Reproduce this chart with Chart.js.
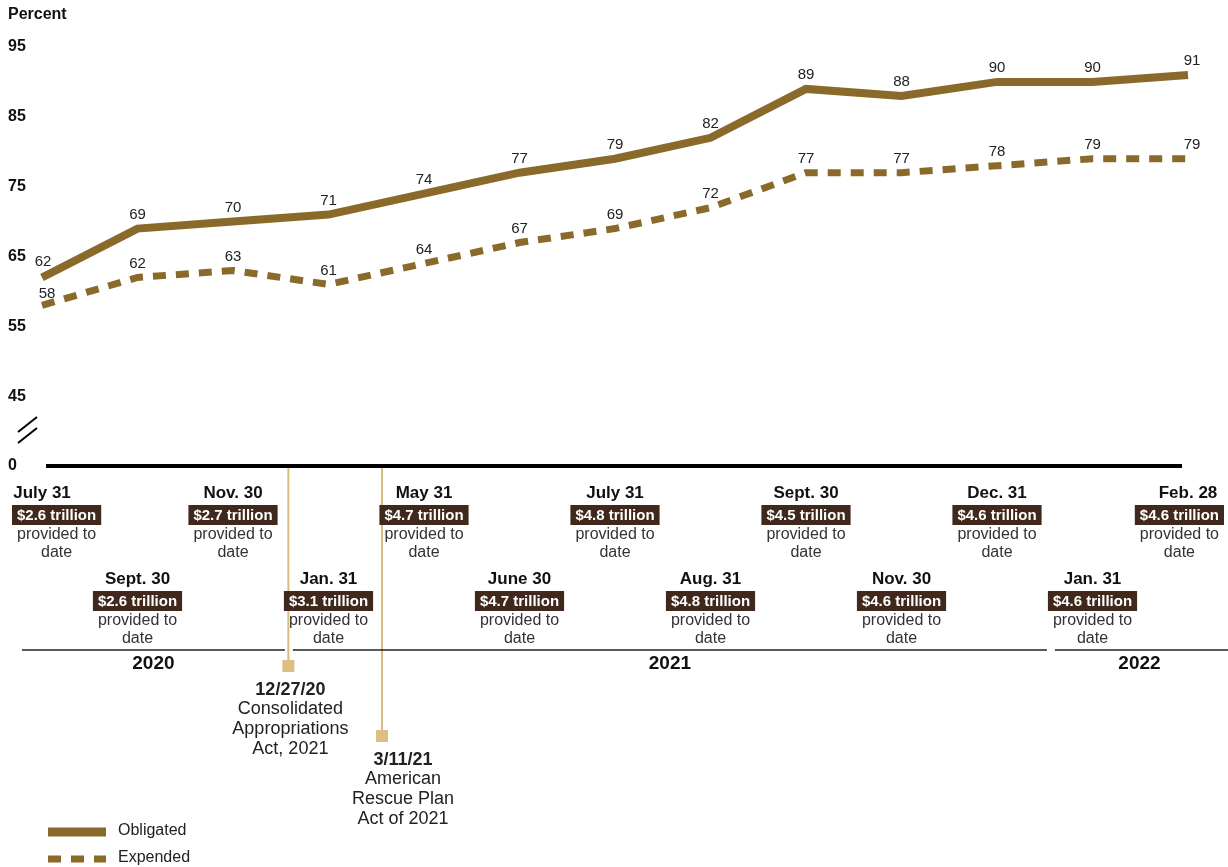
<!DOCTYPE html>
<html>
<head>
<meta charset="utf-8">
<script src="https://cdn.jsdelivr.net/npm/chart.js@4.4.1/dist/chart.umd.min.js"></script>
<style>
  html, body { margin: 0; padding: 0; background: #ffffff; }
  #wrap { width: 1228px; height: 867px; position: relative; }
</style>
</head>
<body>
<div id="wrap"><canvas id="c"></canvas></div>
<script>
// ---- data ----
const dates = ['July 31','Sept. 30','Nov. 30','Jan. 31','May 31','June 30','July 31','Aug. 31','Sept. 30','Nov. 30','Dec. 31','Jan. 31','Feb. 28'];
const provided = ['$2.6 trillion','$2.6 trillion','$2.7 trillion','$3.1 trillion','$4.7 trillion','$4.7 trillion','$4.8 trillion','$4.8 trillion','$4.5 trillion','$4.6 trillion','$4.6 trillion','$4.6 trillion','$4.6 trillion'];
const obligated = [62, 69, 70, 71, 74, 77, 79, 82, 89, 88, 90, 90, 91];
const expended  = [58, 62, 63, 61, 64, 67, 69, 72, 77, 77, 78, 79, 79];
const yTicks = [35, 45, 55, 65, 75, 85, 95];           // 35 sits at the broken-axis "0"
const yTickLabels = ['0', '45', '55', '65', '75', '85', '95'];
const years = ['2020', '2021', '2022'];
const yearBreaks = [2.585, 10.565];                      // category positions of year boundaries
const events = [
  { pos: 2.58, date: '12/27/20', text: ['Consolidated', 'Appropriations', 'Act, 2021'] },
  { pos: 3.56, date: '3/11/21', text: ['American', 'Rescue Plan', 'Act of 2021'] }
];

const BROWN = '#8a6a2a';
const FONT = '"Liberation Sans", Arial, Helvetica, sans-serif';

const overlay = {
  id: 'overlay',
  afterDatasetsDraw(chart) {
    const ctx = chart.ctx;
    ctx.save();
    ctx.fillStyle = '#222';
    ctx.font = '15px ' + FONT;
    ctx.textAlign = 'center';
    ctx.textBaseline = 'middle';
    chart.data.datasets.forEach((ds, di) => {
      const meta = chart.getDatasetMeta(di);
      meta.data.forEach((pt, i) => {
        let dx = 0, dy = -14;
        if (i === 0) { dx = di === 1 ? 5 : 1; dy = di === 1 ? -12 : -16; }
        if (i === meta.data.length - 1) dx = 4;
        ctx.fillText(String(ds.data[i]), pt.x + dx, pt.y + dy);
      });
    });
    ctx.restore();
  },
  afterDraw(chart) {
    const ctx = chart.ctx;
    const xs = chart.scales.x, ys = chart.scales.y;
    const area = chart.chartArea;
    const W = chart.width;
    ctx.save();

    // "Percent"
    ctx.fillStyle = '#111';
    ctx.font = 'bold 16px ' + FONT;
    ctx.textAlign = 'left';
    ctx.textBaseline = 'middle';
    ctx.fillText('Percent', 8, 15);

    const axisY = ys.getPixelForValue(yTicks[0]);

    // event markers
    events.forEach((ev, k) => {
      const ex = xs.getPixelForValue(ev.pos);
      const sq = k === 0 ? 666 : 736;
      ctx.strokeStyle = '#d9bb7e';
      ctx.lineWidth = 2;
      ctx.beginPath();
      ctx.moveTo(ex, axisY);
      ctx.lineTo(ex, sq);
      ctx.stroke();
      ctx.fillStyle = '#dcbf83';
      ctx.fillRect(ex - 6, sq - 6, 12, 12);
      const tx = k === 0 ? ex + 2 : ex + 21;
      let ty = sq + 24;
      ctx.fillStyle = '#222';
      ctx.textAlign = 'center';
      ctx.font = 'bold 18px ' + FONT;
      ctx.fillText(ev.date, tx, ty);
      ctx.font = '18px ' + FONT;
      ev.text.forEach((t, j) => ctx.fillText(t, tx, ty + 20 * (j + 1) - 1));
    });

    // axis line
    ctx.strokeStyle = '#000';
    ctx.lineWidth = 4;
    ctx.beginPath();
    ctx.moveTo(area.left + 4, axisY);
    ctx.lineTo(area.right - 6, axisY);
    ctx.stroke();

    // axis break
    ctx.lineWidth = 2;
    ctx.beginPath();
    ctx.moveTo(18, 432); ctx.lineTo(37, 417);
    ctx.moveTo(18, 443); ctx.lineTo(37, 428);
    ctx.stroke();

    // category labels (staggered)
    dates.forEach((d, i) => {
      const cx = xs.getPixelForValue(i);
      const row = i % 2;
      const base = row === 0 ? 0 : 86;
      ctx.textAlign = 'center';
      ctx.textBaseline = 'middle';
      ctx.fillStyle = '#111';
      ctx.font = 'bold 17px ' + FONT;
      ctx.fillText(d, cx, 493 + base);
      ctx.font = 'bold 15px ' + FONT;
      const tw = ctx.measureText(provided[i]).width;
      const bw = tw + 10;
      let bl = cx - bw / 2;
      if (bl < 12) bl = 12;
      if (bl + bw > W - 4) bl = W - 4 - bw;
      const bc = bl + bw / 2;
      ctx.fillStyle = '#40281c';
      ctx.fillRect(bl, 505 + base, bw, 20);
      ctx.fillStyle = '#fff';
      ctx.fillText(provided[i], bc, 515.5 + base);
      ctx.fillStyle = '#333';
      ctx.font = '16px ' + FONT;
      ctx.fillText('provided to', bc, 535 + base);
      ctx.fillText('date', bc, 553 + base);
    });

    // year rule and labels
    const bx = yearBreaks.map(b => xs.getPixelForValue(b));
    const segs = [[22, bx[0] - 4], [bx[0] + 4, bx[1] - 4], [bx[1] + 4, W]];
    ctx.strokeStyle = '#222';
    ctx.lineWidth = 1.5;
    segs.forEach((s, k) => {
      ctx.beginPath();
      ctx.moveTo(s[0], 650);
      ctx.lineTo(s[1], 650);
      ctx.stroke();
      ctx.fillStyle = '#111';
      ctx.font = 'bold 19px ' + FONT;
      ctx.textAlign = 'center';
      const cx = k === 2 ? (s[0] + s[1]) / 2 - 2 : (s[0] + s[1]) / 2;
      ctx.fillText(years[k], cx, 664);
    });

    // legend
    chart.data.datasets.forEach((ds, k) => {
      const ly = k === 0 ? 832 : 859;
      ctx.strokeStyle = ds.borderColor;
      ctx.lineWidth = k === 0 ? 9 : 7;
      ctx.setLineDash(ds.borderDash || []);
      ctx.beginPath();
      ctx.moveTo(48, ly);
      ctx.lineTo(106, ly);
      ctx.stroke();
      ctx.setLineDash([]);
      ctx.fillStyle = '#222';
      ctx.font = '16px ' + FONT;
      ctx.textAlign = 'left';
      ctx.fillText(ds.label, 118, ly - 1);
    });

    ctx.restore();
  }
};

new Chart(document.getElementById('c'), {
  type: 'line',
  data: {
    labels: dates,
    datasets: [
      { label: 'Obligated', data: obligated, borderColor: BROWN, backgroundColor: BROWN,
        borderWidth: 8, pointRadius: 0, tension: 0, fill: false },
      { label: 'Expended', data: expended, borderColor: BROWN, backgroundColor: BROWN,
        borderWidth: 7, borderDash: [13, 10], pointRadius: 0, tension: 0, fill: false }
    ]
  },
  options: {
    responsive: true,
    maintainAspectRatio: false,
    animation: false,
    layout: { padding: { left: 8, top: 47, right: 40, bottom: 401 } },
    plugins: { legend: { display: false }, tooltip: { enabled: false } },
    scales: {
      x: { display: false, offset: false },
      y: {
        min: 35, max: 95,
        afterFit: s => { s.width = 34; },
        afterBuildTicks: s => { s.ticks = yTicks.map(v => ({ value: v })); },
        grid: { display: false },
        border: { display: false },
        ticks: {
          padding: 0,
          crossAlign: 'far',
          color: '#111',
          font: { family: FONT, size: 16, weight: 'bold' },
          callback: (v) => yTickLabels[yTicks.indexOf(v)]
        }
      }
    }
  },
  plugins: [overlay]
});
</script>
</body>
</html>
